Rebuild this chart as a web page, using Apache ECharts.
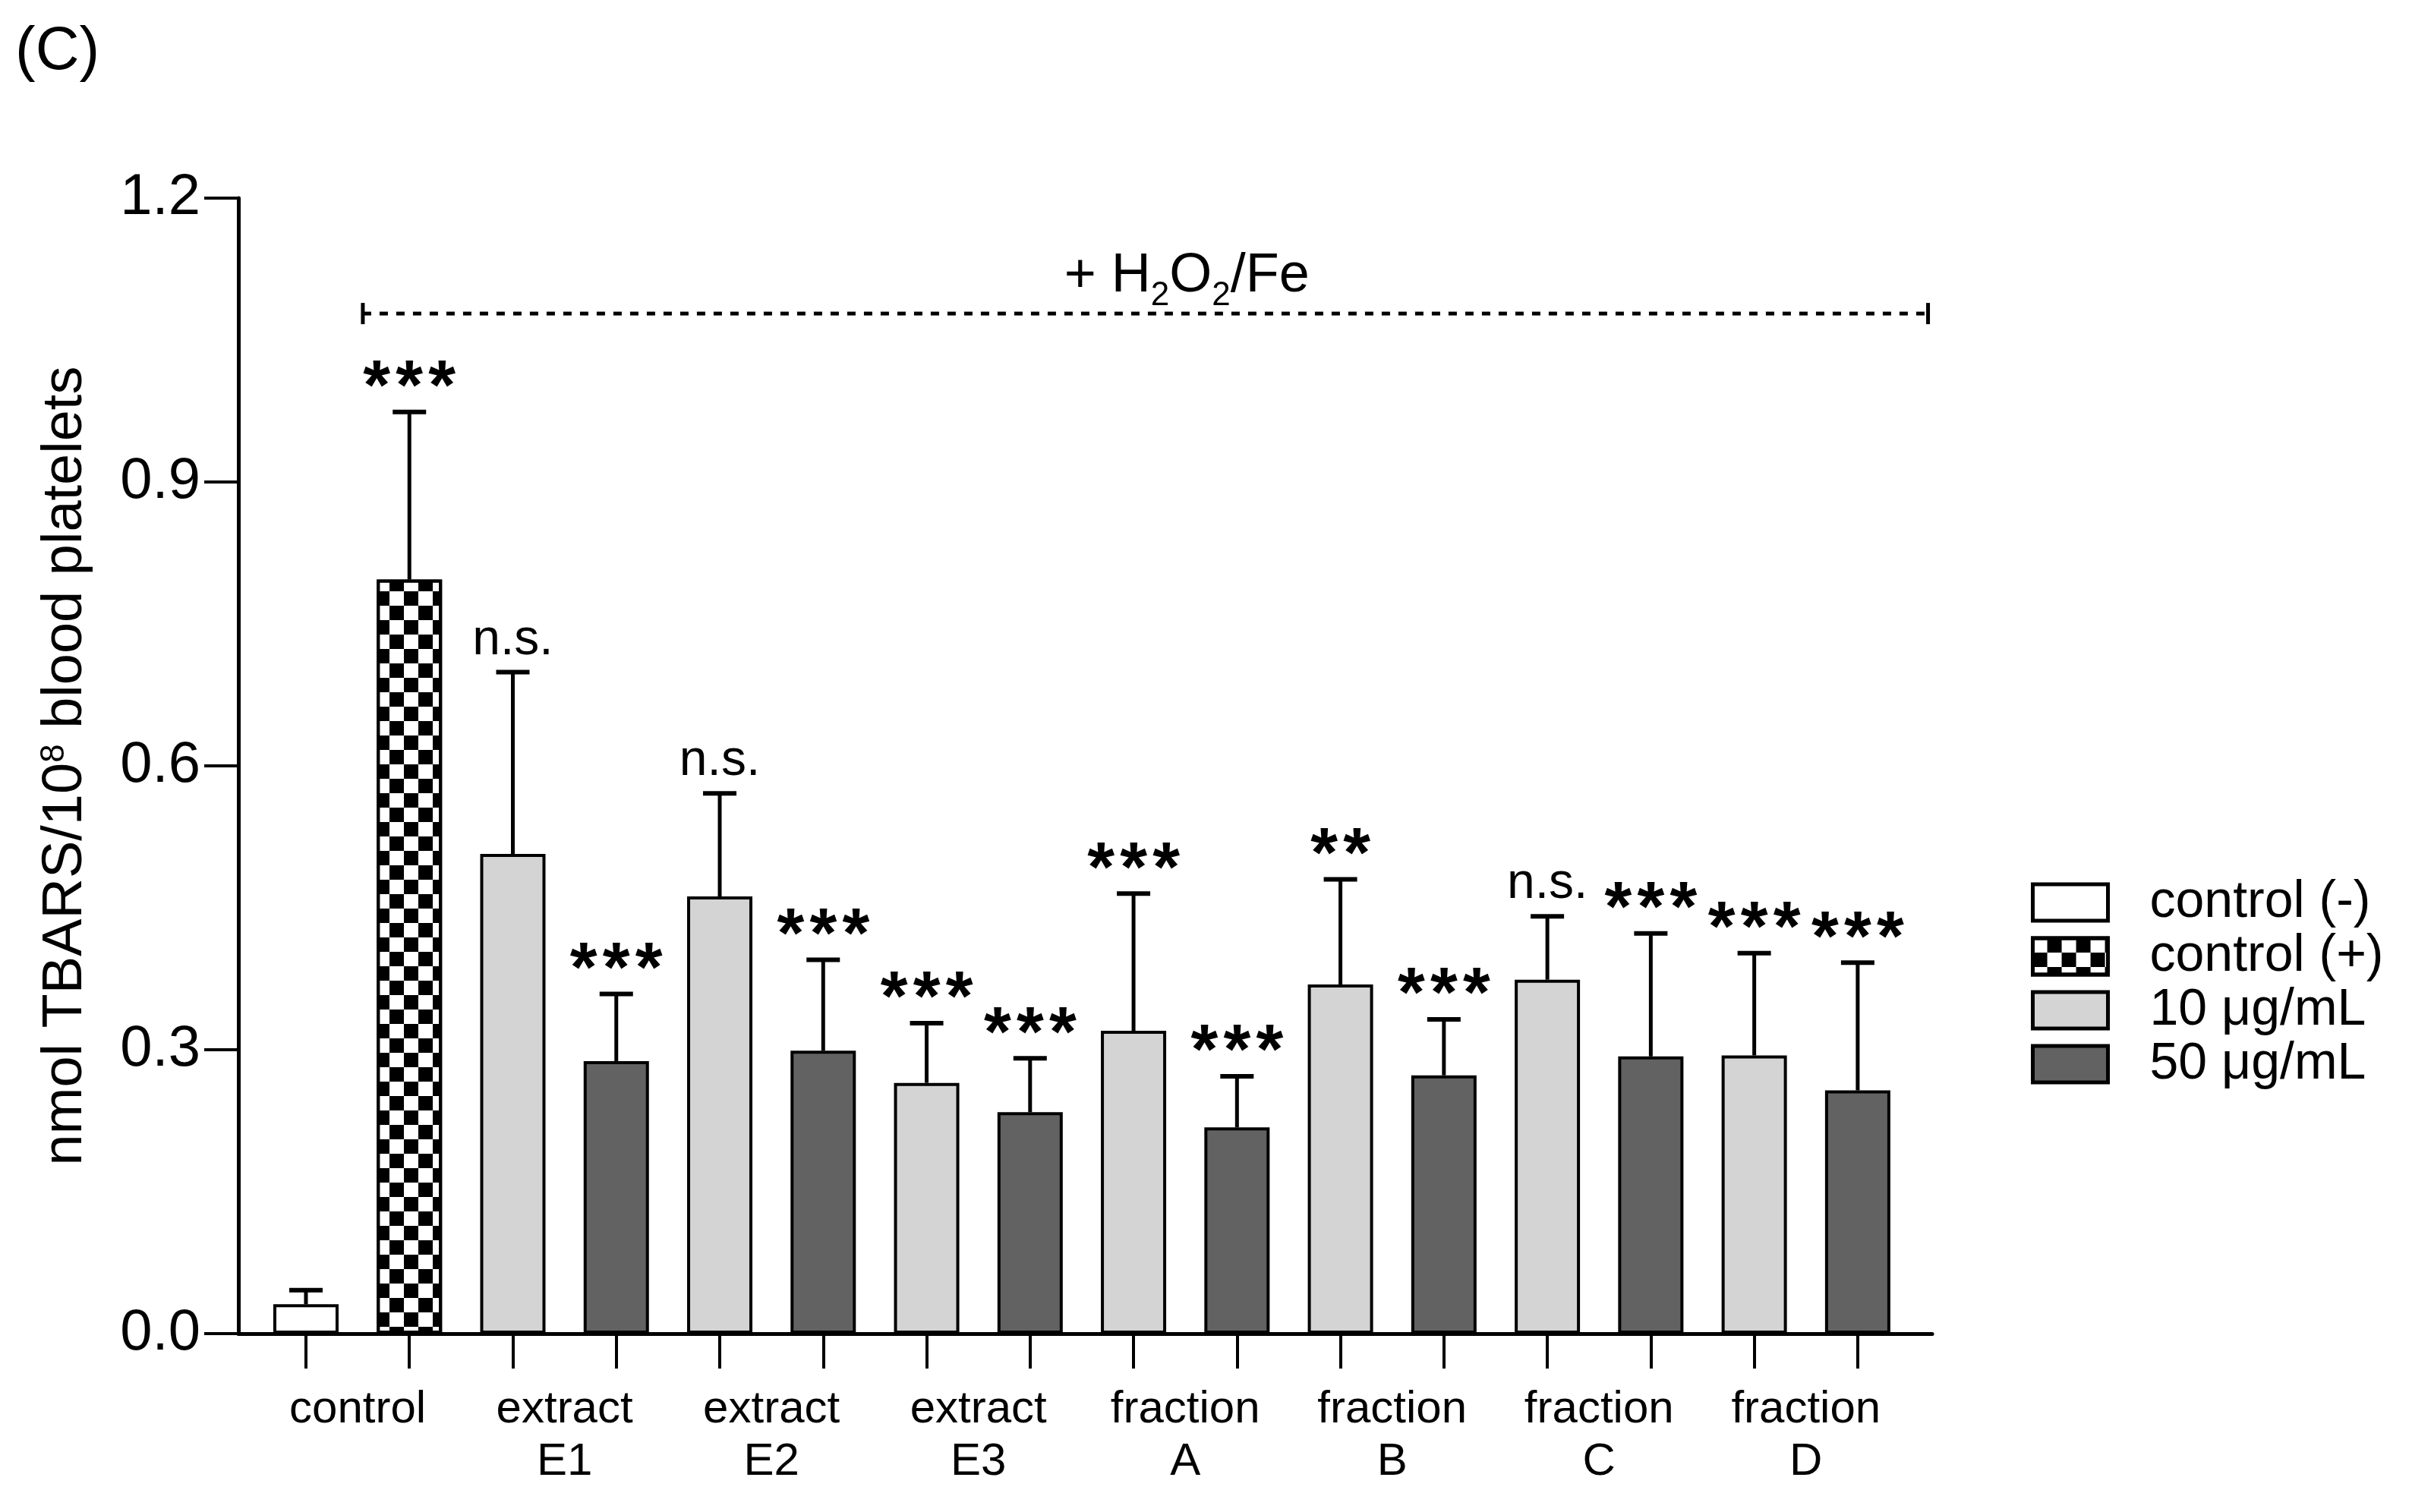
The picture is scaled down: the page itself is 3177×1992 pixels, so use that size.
<!DOCTYPE html>
<html>
<head>
<meta charset="utf-8">
<script src="https://cdn.jsdelivr.net/npm/echarts@6/dist/echarts.min.js"></script>
<style>html,body{margin:0;padding:0;background:#fff}#c{width:3177px;height:1992px}</style>
</head>
<body>
<div id="c"></div>
<script>
// ---- data ----
const groupLabels = ['control', 'extract\nE1', 'extract\nE2', 'extract\nE3', 'fraction\nA', 'fraction\nB', 'fraction\nC', 'fraction\nD'];
const seriesNames = ['control (-)', 'control (+)', '10 \u03bcg/mL', '50 \u03bcg/mL'];
const controlNegMean = [0.031];
const controlNegSD = [0.015];
const controlNegSig = [''];
const controlPosMean = [0.797];
const controlPosSD = [0.177];
const controlPosSig = ['***'];
const dose10Mean = [0.507, 0.462, 0.265, 0.320, 0.369, 0.374, 0.294];
const dose10SD = [0.192, 0.109, 0.063, 0.145, 0.111, 0.067, 0.108];
const dose10Sig = ['n.s.', 'n.s.', '***', '***', '**', 'n.s.', '***'];
const dose50Mean = [0.288, 0.299, 0.234, 0.218, 0.273, 0.293, 0.257];
const dose50SD = [0.071, 0.096, 0.057, 0.054, 0.059, 0.130, 0.135];
const dose50Sig = ['***', '***', '***', '***', '***', '***', '***'];
const yTicks = [0, 0.3, 0.6, 0.9, 1.2];
const bracketSpan = [0.55, 15.68];
const bracketLevel = 1.078;
const bracketLabel = '{m|+ H}{sub|2}{m|O}{sub|2}{m|/Fe}';

// ---- build ----
const FONT = '"Liberation Sans", Arial, sans-serif';
const negX = [0], posX = [1];
const d10X = dose10Mean.map((_, i) => 2 + 2 * i);
const d50X = dose50Mean.map((_, i) => 3 + 2 * i);
const tickPositions = [].concat(negX, posX, ...d10X.map((x, i) => [x, d50X[i]]));
const groupCenters = groupLabels.map((_, i) => 0.5 + 2 * i);

const errData = [];
const errSig = [];
function addErr(xs, means, sds, sigs) {
  xs.forEach((x, i) => { errData.push([x, means[i], sds[i]]); errSig.push(sigs[i]); });
}
addErr(negX, controlNegMean, controlNegSD, controlNegSig);
addErr(posX, controlPosMean, controlPosSD, controlPosSig);
addErr(d10X, dose10Mean, dose10SD, dose10Sig);
addErr(d50X, dose50Mean, dose50SD, dose50Sig);

const barCommon = {
  type: 'bar', barWidth: 86, barGap: '-100%',
  emphasis: { disabled: true }, z: 2
};
const border = { borderColor: '#000', borderWidth: 4 };

const chart = echarts.init(document.getElementById('c'), null, { renderer: 'canvas' });
const option = {
  animation: false,
  backgroundColor: '#fff',
  textStyle: { fontFamily: FONT, color: '#000' },
  grid: { left: 314, right: 632, top: 261, bottom: 235 },
  graphic: [{
    type: 'text', left: 20, top: 29,
    style: { text: '(C)', fontSize: 80, fontFamily: FONT, fill: '#000' }
  }],
  legend: {
    orient: 'vertical', left: 2670, top: 1150,
    itemWidth: 99, itemHeight: 48, itemGap: 3, icon: 'rect',
    data: seriesNames,
    selectedMode: false,
    textStyle: { fontSize: 68, lineHeight: 46, color: '#000', fontFamily: FONT, padding: [0, 0, 0, 50] },
    itemStyle: { borderWidth: 5, borderColor: '#000' }
  },
  xAxis: {
    type: 'value', min: -0.653, max: 15.72,
    splitLine: { show: false },
    axisLine: { show: true, onZero: false, lineStyle: { color: '#000', width: 5 } },
    axisTick: { show: true, customValues: tickPositions, length: 46, lineStyle: { color: '#000', width: 4 } },
    axisLabel: {
      customValues: groupCenters,
      formatter: v => groupLabels[Math.round((v - 0.5) / 2)],
      margin: 66, fontSize: 60, lineHeight: 69, color: '#000', fontFamily: FONT
    }
  },
  yAxis: {
    type: 'value', min: yTicks[0], max: yTicks[yTicks.length - 1], interval: 0.3,
    splitLine: { show: false },
    axisLine: { show: true, onZero: false, lineStyle: { color: '#000', width: 5 } },
    axisTick: { show: true, length: 45, lineStyle: { color: '#000', width: 4 } },
    axisLabel: { margin: 50, fontSize: 76, color: '#000', fontFamily: FONT, formatter: v => v.toFixed(1) },
    name: 'nmol TBARS/10{sup|8} blood platelets',
    nameLocation: 'middle', nameGap: 190,
    nameTextStyle: {
      fontSize: 74, color: '#000', fontFamily: FONT, lineHeight: 74,
      rich: { sup: { fontSize: 44, verticalAlign: 'top', lineHeight: 44, fontFamily: FONT, color: '#000' } }
    }
  },
  series: [
    Object.assign({}, barCommon, {
      name: seriesNames[0],
      data: negX.map((x, i) => [x, controlNegMean[i]]),
      itemStyle: Object.assign({ color: '#ffffff' }, border)
    }),
    Object.assign({}, barCommon, {
      name: seriesNames[1],
      data: posX.map((x, i) => [x, controlPosMean[i]]),
      itemStyle: Object.assign({
        color: '#ffffff',
        decal: { symbol: 'rect', symbolSize: 1, color: '#000', dashArrayX: [[19, 19], [0, 19, 19, 0]], dashArrayY: [19, 0], rotation: 0 }
      }, border)
    }),
    Object.assign({}, barCommon, {
      name: seriesNames[2],
      data: d10X.map((x, i) => [x, dose10Mean[i]]),
      itemStyle: Object.assign({ color: '#d4d4d4' }, border)
    }),
    Object.assign({}, barCommon, {
      name: seriesNames[3],
      data: d50X.map((x, i) => [x, dose50Mean[i]]),
      itemStyle: Object.assign({ color: '#626262' }, border)
    }),
    {
      type: 'custom', name: 'err', z: 5, silent: true,
      data: errData,
      encode: { x: 0, y: 1 },
      renderItem: function (params, api) {
        const x = api.value(0), m = api.value(1), s = api.value(2);
        const base = api.coord([x, m]);
        const top = api.coord([x, m + s]);
        const children = [
          { type: 'line', shape: { x1: base[0], y1: base[1], x2: top[0], y2: top[1] }, style: { stroke: '#000', lineWidth: 5 } },
          { type: 'line', shape: { x1: top[0] - 22, y1: top[1], x2: top[0] + 22, y2: top[1] }, style: { stroke: '#000', lineWidth: 6 } }
        ];
        const sig = errSig[params.dataIndex];
        if (sig && sig.indexOf('*') >= 0) {
          const n = sig.length;
          for (let k = 0; k < n; k++) {
            children.push({
              type: 'text', x: top[0] + (k - (n - 1) / 2) * 43, y: top[1] - 29,
              style: { text: '*', fontSize: 92, fontWeight: 'bold', fontFamily: FONT, fill: '#000', align: 'center', verticalAlign: 'middle' }
            });
          }
        } else if (sig) {
          children.push({
            type: 'text', x: top[0], y: top[1] - 42,
            style: { text: sig, fontSize: 66, fontFamily: FONT, fill: '#000', align: 'center', verticalAlign: 'middle' }
          });
        }
        return { type: 'group', children: children };
      }
    },
    {
      type: 'custom', name: 'bracket', z: 5, silent: true,
      data: [[bracketSpan[0], bracketLevel, bracketSpan[1]]],
      encode: { x: [0, 2], y: 1 },
      renderItem: function (params, api) {
        const a = api.coord([api.value(0), api.value(1)]);
        const b = api.coord([api.value(2), api.value(1)]);
        const mid = api.coord([(api.value(0) + api.value(2)) / 2 + 0.4, api.value(1)]);
        return {
          type: 'group', children: [
            { type: 'line', shape: { x1: a[0], y1: a[1], x2: b[0], y2: b[1] }, style: { stroke: '#000', lineWidth: 5, lineDash: [11, 11] } },
            { type: 'line', shape: { x1: a[0], y1: a[1] - 14, x2: a[0], y2: a[1] + 14 }, style: { stroke: '#000', lineWidth: 5 } },
            { type: 'line', shape: { x1: b[0], y1: b[1] - 14, x2: b[0], y2: b[1] + 14 }, style: { stroke: '#000', lineWidth: 5 } },
            {
              type: 'text', x: mid[0], y: a[1] - 13,
              style: {
                text: bracketLabel, fill: '#000', align: 'center', verticalAlign: 'bottom',
                fontSize: 72, fontFamily: FONT,
                rich: {
                  m: { fontSize: 72, lineHeight: 72, fontFamily: FONT, fill: '#000' },
                  sub: { fontSize: 44, lineHeight: 44, padding: [52, 0, 0, 0], fontFamily: FONT, fill: '#000' }
                }
              }
            }
          ]
        };
      }
    }
  ]
};
chart.setOption(option);
</script>
</body>
</html>
